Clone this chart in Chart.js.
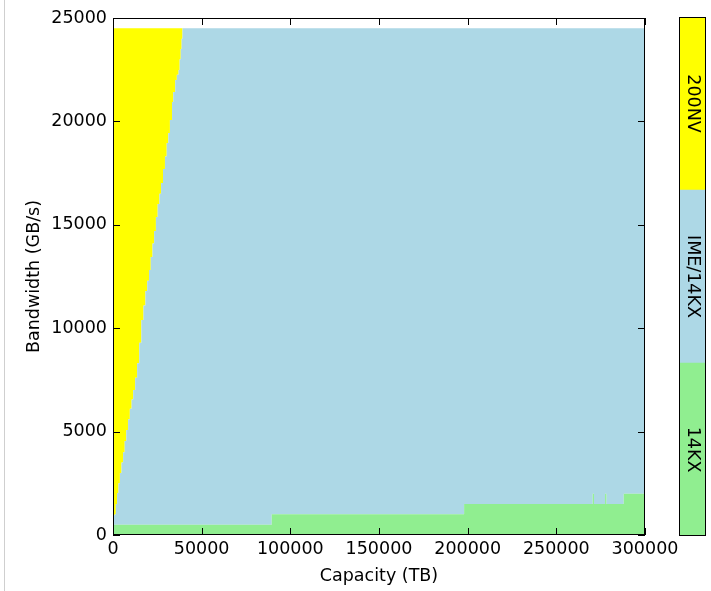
<!DOCTYPE html>
<html><head><meta charset="utf-8">
<script src="https://cdn.jsdelivr.net/npm/chart.js@4.4.1/dist/chart.umd.min.js"></script>
<style>
html,body{margin:0;padding:0;background:#fff;}
#wrap{position:relative;width:711px;height:591px;overflow:hidden;background:#fff;}
#edge{position:absolute;left:4px;top:0;width:0;height:591px;border-left:1px solid #cfcfcf;}
#main{position:absolute;left:0;top:0;}
#cbar{position:absolute;left:679px;top:17px;}
</style></head><body>
<div id="wrap"><div id="edge"></div>
<canvas id="main" width="711" height="591"></canvas>
<canvas id="cbar" width="27" height="519"></canvas></div>
<script>
// ---- data ----
const capacityTB = [
  0, 1000, 1600, 2300, 3100, 3900, 4800, 5700, 6600, 7500,
  8500, 9500, 10500, 11400, 12500, 13600, 14800, 16000, 17200, 18300,
  19300, 20300, 21300, 22300, 23200, 24200, 25200, 26200, 27100, 28200,
  29300, 30300, 31200, 32100, 33300, 34000, 35100, 36000, 37000, 37600,
  38200, 38700, 39200,
  89500, 198000, 270500, 271200, 277500, 278200, 288000, 300000];
// top of the 14KX region (GB/s)
const greenTop = [
  500, 500, 500, 500, 500, 500, 500, 500, 500, 500,
  500, 500, 500, 500, 500, 500, 500, 500, 500, 500,
  500, 500, 500, 500, 500, 500, 500, 500, 500, 500,
  500, 500, 500, 500, 500, 500, 500, 500, 500, 500,
  500, 500, 500,
  1000, 1500, 2000, 1500, 2000, 1500, 2000, 2000];
// top of the IME/14KX region (boundary with 200NV)
const imeTop = [
  950, 1000, 1500, 2031, 2500, 2998, 3500, 4000, 4550, 5077,
  5600, 6100, 6550, 7012, 7600, 8300, 9300, 10397, 11100, 11800,
  12300, 12814, 13443, 14100, 14700, 15377, 16000, 16500, 17021, 17700,
  18300, 18955, 19440, 20068, 20938, 21420, 22000, 22250, 22485, 23000,
  23500, 24000, 24500,
  24500, 24500, 24500, 24500, 24500, 24500, 24500, 24500];
// top of the 200NV region
const nvTop = [
  24500, 24500, 24500, 24500, 24500, 24500, 24500, 24500, 24500, 24500,
  24500, 24500, 24500, 24500, 24500, 24500, 24500, 24500, 24500, 24500,
  24500, 24500, 24500, 24500, 24500, 24500, 24500, 24500, 24500, 24500,
  24500, 24500, 24500, 24500, 24500, 24500, 24500, 24500, 24500, 24500,
  24500, 24500, 24500,
  24500, 24500, 24500, 24500, 24500, 24500, 24500, 24500];
const xTicks = [0, 50000, 100000, 150000, 200000, 250000, 300000];
const yTicks = [0, 5000, 10000, 15000, 20000, 25000];
const regionLabels = ['14KX', 'IME/14KX', '200NV'];
const regionColors = ['#90ee90', '#add8e6', '#ffff00'];

const FONT = 'DejaVu Sans';
const FS = 17.5;

const pts = arr => capacityTB.map((c, i) => ({x: c, y: arr[i]}));

const frameTicks = {
  id: 'frameTicks',
  afterDatasetsDraw(chart) {
    const {ctx, chartArea: a, scales: {x, y}} = chart;
    ctx.save();
    ctx.strokeStyle = '#000';
    ctx.lineWidth = 1;
    ctx.strokeRect(a.left + 0.5, a.top + 0.5, a.right - a.left - 1, a.bottom - a.top - 1);
    const L = 7;
    ctx.beginPath();
    xTicks.forEach(v => {
      const p = Math.round(x.getPixelForValue(v)) + 0.5;
      ctx.moveTo(p, a.bottom); ctx.lineTo(p, a.bottom - L);
      ctx.moveTo(p, a.top); ctx.lineTo(p, a.top + L);
    });
    yTicks.forEach(v => {
      const p = Math.round(y.getPixelForValue(v)) + 0.5;
      ctx.moveTo(a.left, p); ctx.lineTo(a.left + L, p);
      ctx.moveTo(a.right, p); ctx.lineTo(a.right - L, p);
    });
    ctx.stroke();
    ctx.restore();
  }
};

const lineDs = (arr, color, fill) => ({
  data: pts(arr), backgroundColor: color, borderColor: 'rgba(0,0,0,0)', borderWidth: 0,
  pointRadius: 0, pointHoverRadius: 0, fill: fill, stepped: 'before', tension: 0
});

new Chart(document.getElementById('main'), {
  type: 'line',
  data: {
    datasets: [
      lineDs(greenTop, regionColors[0], 'origin'),
      lineDs(imeTop, regionColors[1], '-1'),
      lineDs(nvTop, regionColors[2], '-1')
    ]
  },
  options: {
    responsive: false, animation: false, devicePixelRatio: 1,
    layout: {padding: {left: 0, top: 18, right: 66, bottom: 0}},
    plugins: {legend: {display: false}, tooltip: {enabled: false}},
    events: [],
    scales: {
      x: {
        type: 'linear', min: 0, max: 300000,
        grid: {display: false, drawTicks: false}, border: {display: false},
        afterBuildTicks: s => { s.ticks = xTicks.map(v => ({value: v})); },
        afterFit: s => { s.height = 56; },
        ticks: {callback: v => String(v), color: '#000', font: {family: FONT, size: FS}, padding: 4, maxRotation: 0, autoSkip: false},
        title: {display: true, text: 'Capacity (TB)', color: '#000', font: {family: FONT, size: FS}, padding: {top: 0, bottom: 4.5}}
      },
      y: {
        type: 'linear', min: 0, max: 25000,
        grid: {display: false, drawTicks: false}, border: {display: false},
        afterBuildTicks: s => { s.ticks = yTicks.map(v => ({value: v})); },
        afterFit: s => { s.width = 113; },
        ticks: {callback: v => String(v), color: '#000', font: {family: FONT, size: FS}, padding: 6, autoSkip: false},
        title: {display: true, text: 'Bandwidth (GB/s)', color: '#000', font: {family: FONT, size: FS}, padding: {top: 23.5, bottom: 0}}
      }
    }
  },
  plugins: [frameTicks]
});

const cbarPlugin = {
  id: 'cbarPlugin',
  afterDatasetsDraw(chart) {
    const {ctx, chartArea: a, scales: {y}} = chart;
    ctx.save();
    ctx.fillStyle = '#000';
    ctx.font = FS + 'px "' + FONT + '"';
    ctx.textAlign = 'center';
    ctx.textBaseline = 'middle';
    const cx = (a.left + a.right) / 2;
    regionLabels.forEach((t, i) => {
      const cy = y.getPixelForValue(i + 0.5);
      ctx.save();
      ctx.translate(cx, cy);
      ctx.rotate(Math.PI / 2);
      ctx.fillText(t, 0, 0);
      ctx.restore();
    });
    ctx.strokeStyle = '#000';
    ctx.lineWidth = 1;
    ctx.strokeRect(a.left + 0.5, a.top + 0.5, a.right - a.left - 1, a.bottom - a.top - 1);
    ctx.restore();
  }
};

new Chart(document.getElementById('cbar'), {
  type: 'bar',
  data: {
    labels: [''],
    datasets: regionLabels.map((l, i) => ({label: l, data: [1], backgroundColor: regionColors[i], borderWidth: 0, barPercentage: 1, categoryPercentage: 1}))
  },
  options: {
    responsive: false, animation: false, devicePixelRatio: 1, events: [],
    layout: {padding: 0},
    plugins: {legend: {display: false}, tooltip: {enabled: false}},
    scales: {
      x: {stacked: true, display: false},
      y: {stacked: true, display: false, min: 0, max: 3}
    }
  },
  plugins: [cbarPlugin]
});
</script>
</body></html>
